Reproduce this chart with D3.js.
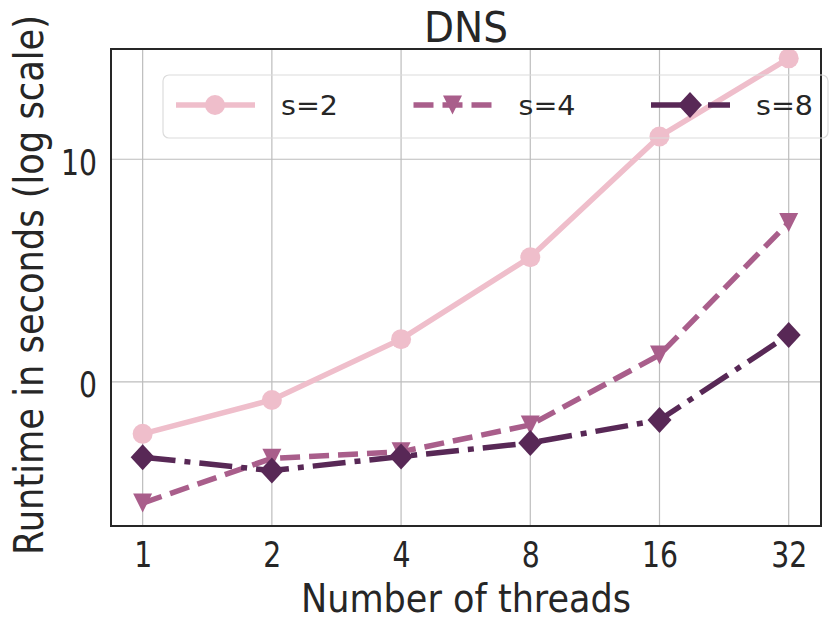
<!DOCTYPE html>
<html>
  <head>
    <meta charset="utf-8" />
    <title>DNS runtime</title>
    <script src="https://d3js.org/d3.v7.min.js" charset="utf-8"></script>
    <style>
      html,
      body {
        margin: 0;
        padding: 0;
        background: white;
      }
      text {
        font-family: "Liberation Sans Narrow", "DejaVu Sans Condensed", Lato, sans-serif;
        fill: #262626;
      }
    </style>
  </head>
  <body>
    <svg id="chart"></svg>
    <script>
      // Data
      const threads = [1, 2, 4, 8, 16, 32];
      const seriesNames = ["s=2", "s=4", "s=8"];
      const s2 = [-2.33, -0.81, 1.92, 5.6, 11.02, 14.53];
      const s4 = [-5.44, -3.43, -3.14, -1.93, 1.21, 7.16];
      const s8 = [-3.38, -3.98, -3.35, -2.74, -1.71, 2.11];
      const yTicks = [0, 10];

      const width = 830;
      const height = 630;

      // plot frame
      const frameLeft = 111;
      const frameRight = 821;
      const frameTop = 49;
      const frameBottom = 526;

      const svg = d3.select("#chart").attr("width", width).attr("height", height);

      const x = d3.scaleLog().base(2).domain([Math.pow(2, -0.245), Math.pow(2, 5.25)]).range([frameLeft, frameRight]);
      const y = d3.scaleLinear().domain([-6.47, 14.95]).range([frameBottom, frameTop]);

      // grid
      const grid = svg.append("g").attr("stroke", "#bdbdbd").attr("stroke-width", 1.2);
      grid.selectAll(".gx").data(threads).enter().append("line")
        .attr("x1", (d) => x(d)).attr("x2", (d) => x(d))
        .attr("y1", frameTop).attr("y2", frameBottom);
      grid.selectAll(".gy").data(yTicks).enter().append("line")
        .attr("x1", frameLeft).attr("x2", frameRight)
        .attr("y1", (d) => y(d)).attr("y2", (d) => y(d));

      // axes (tick labels only, no tick marks)
      const xAxis = d3.axisBottom(x).tickValues(threads).tickFormat(d3.format("d")).tickSize(0).tickPadding(0);
      const gx = svg.append("g").attr("transform", `translate(0,${frameBottom})`).call(xAxis);
      gx.select(".domain").remove();
      gx.selectAll("text")
        .attr("y", 41).attr("dy", null)
        .attr("font-size", 35)
        .attr("textLength", (d) => String(d).length * 18)
        .attr("lengthAdjust", "spacingAndGlyphs");

      const yAxis = d3.axisLeft(y).tickValues(yTicks).tickSize(0).tickPadding(0);
      const gy = svg.append("g").attr("transform", `translate(${frameLeft},0)`).call(yAxis);
      gy.select(".domain").remove();
      gy.selectAll("text")
        .attr("x", -14).attr("dy", 15)
        .attr("font-size", 35)
        .attr("textLength", (d) => String(d).length * 18)
        .attr("lengthAdjust", "spacingAndGlyphs");

      // series
      const colors = ["#efbecb", "#a95e8b", "#582856"];
      const dashes = [null, "20,9", "33,9,6,9"];
      const allSeries = [s2, s4, s8];

      const line = d3.line().x((d, i) => x(threads[i])).y((d) => y(d));

      function drawMarker(g, kind, cx, cy, color) {
        if (kind === 0) {
          g.append("circle").attr("cx", cx).attr("cy", cy).attr("r", 10).attr("fill", color);
        } else if (kind === 1) {
          g.append("path")
            .attr("d", `M${cx - 9.5},${cy - 9.5}L${cx + 9.5},${cy - 9.5}L${cx},${cy + 9.5}Z`)
            .attr("fill", color);
        } else {
          g.append("path")
            .attr("d", `M${cx},${cy - 13}L${cx + 12},${cy}L${cx},${cy + 13}L${cx - 12},${cy}Z`)
            .attr("fill", color);
        }
      }

      allSeries.forEach((vals, k) => {
        const g = svg.append("g");
        g.append("path")
          .datum(vals)
          .attr("d", line)
          .attr("fill", "none")
          .attr("stroke", colors[k])
          .attr("stroke-width", 5.5)
          .attr("stroke-dasharray", dashes[k]);
        vals.forEach((v, i) => drawMarker(g, k, x(threads[i]), y(v), colors[k]));
      });

      // frame
      svg.append("rect")
        .attr("x", frameLeft).attr("y", frameTop)
        .attr("width", frameRight - frameLeft).attr("height", frameBottom - frameTop)
        .attr("fill", "none").attr("stroke", "#262626").attr("stroke-width", 2);

      // legend
      const legend = svg.append("g");
      legend.append("rect")
        .attr("x", 163).attr("y", 75).attr("width", 665).attr("height", 63)
        .attr("rx", 6)
        .attr("fill", "none").attr("stroke", "#dcdcdc").attr("stroke-width", 1.2);
      seriesNames.forEach((name, k) => {
        const lx = 176 + k * 237.5;
        const ly = 105;
        legend.append("line")
          .attr("x1", lx).attr("x2", lx + 79).attr("y1", ly).attr("y2", ly)
          .attr("stroke", colors[k]).attr("stroke-width", 5.5)
          .attr("stroke-dasharray", dashes[k]);
        drawMarker(legend, k, lx + 39, ly, colors[k]);
        legend.append("text")
          .attr("x", lx + 105).attr("y", 115)
          .attr("font-family", "DejaVu Sans, sans-serif")
          .attr("font-size", 27)
          .attr("textLength", 57)
          .attr("lengthAdjust", "spacingAndGlyphs")
          .text(name);
      });

      // title and axis labels
      svg.append("text")
        .attr("x", (frameLeft + frameRight) / 2).attr("y", 42)
        .attr("text-anchor", "middle").attr("font-size", 42)
        .attr("textLength", 84).attr("lengthAdjust", "spacingAndGlyphs")
        .text("DNS");

      svg.append("text")
        .attr("x", (frameLeft + frameRight) / 2).attr("y", 612)
        .attr("text-anchor", "middle").attr("font-size", 39)
        .attr("textLength", 330).attr("lengthAdjust", "spacingAndGlyphs")
        .text("Number of threads");

      svg.append("text")
        .attr("transform", "translate(43,285) rotate(-90)")
        .attr("text-anchor", "middle").attr("font-size", 40)
        .attr("textLength", 540).attr("lengthAdjust", "spacingAndGlyphs")
        .text("Runtime in seconds (log scale)");
    </script>
  </body>
</html>
